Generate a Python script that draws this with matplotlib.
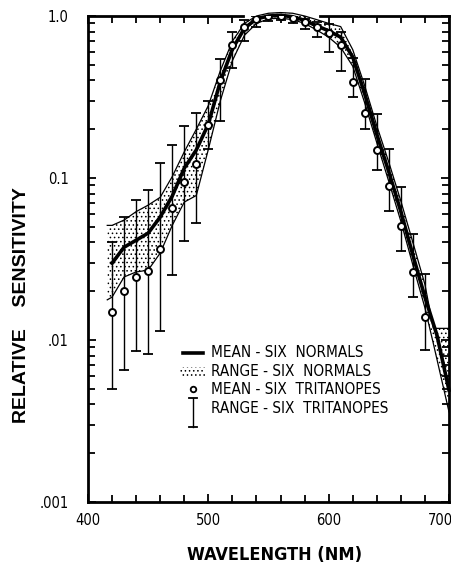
import numpy as np
import matplotlib
matplotlib.use("Agg")
import matplotlib.pyplot as plt
from matplotlib.ticker import MultipleLocator, FixedLocator, FixedFormatter, LogLocator, NullFormatter
from matplotlib.patches import Rectangle
from matplotlib.transforms import ScaledTranslation

# Mean of six normal observers (thick line)
wl = np.arange(420, 701, 10)
normal_mean = [0.0298, 0.0374, 0.0413, 0.0457, 0.0574, 0.0773, 0.115, 0.149, 0.215, 0.395,
               0.625, 0.84, 0.96, 1.0, 1.01, 0.99, 0.94, 0.87, 0.81, 0.74,
               0.558, 0.33, 0.186, 0.109, 0.062, 0.0334, 0.0184, 0.0107, 0.0049]

# Range of six normals (stippled band)
band_wl = [416, 420, 430, 440, 450, 460, 470, 480, 490, 500, 510, 520, 530, 540, 550,
           560, 570, 580, 590, 600, 610, 620, 630, 640, 650, 660, 670, 680, 687, 700]
band_hi = [0.051, 0.051, 0.055, 0.062, 0.068, 0.076, 0.102, 0.145, 0.20, 0.28, 0.46, 0.70,
           0.90, 1.0, 1.04, 1.05, 1.04, 1.0, 0.95, 0.90, 0.86, 0.62, 0.37, 0.21, 0.125,
           0.072, 0.040, 0.022, 0.0118, 0.0118]
band_lo = [0.0177, 0.0184, 0.0245, 0.0263, 0.027, 0.0344, 0.051, 0.071, 0.078, 0.15, 0.30,
           0.53, 0.76, 0.90, 0.96, 0.97, 0.95, 0.90, 0.82, 0.74, 0.64, 0.49, 0.29, 0.165,
           0.095, 0.054, 0.029, 0.0158, 0.0095, 0.0036]

# Six tritanopes: mean (circles) and range (bars)
tri_wl = np.arange(420, 681, 10)
tri_mean = [0.0149, 0.020, 0.0244, 0.0266, 0.0364, 0.0652, 0.0944, 0.122, 0.212, 0.40,
            0.66, 0.86, 0.96, 1.0, 1.0, 0.97, 0.92, 0.85, 0.78, 0.66,
            0.39, 0.252, 0.149, 0.089, 0.0504, 0.0262, 0.0138]
tri_hi = [0.0402, 0.0573, 0.073, 0.0842, 0.1236, 0.16, 0.209, 0.252, 0.30, 0.542,
          0.80, 0.95, 1.0, 1.02, 1.03, 1.0, 0.96, 0.92, 0.89, 0.80,
          0.55, 0.41, 0.25, 0.15, 0.088, 0.0449, 0.0256]
tri_lo = [0.00497, 0.0065, 0.00853, 0.00817, 0.01133, 0.0251, 0.0408, 0.0527, 0.15, 0.2246,
          0.48, 0.70, 0.85, 0.93, 0.95, 0.90, 0.83, 0.74, 0.60, 0.46,
          0.316, 0.20, 0.112, 0.0626, 0.0354, 0.0184, 0.0087]

x_ticks = [400, 500, 600, 700]
y_ticks = [0.001, 0.01, 0.1, 1.0]
y_labels = [".001", ".01", "0.1", "1.0"]

legend_labels = ["MEAN - SIX  NORMALS", "RANGE - SIX  NORMALS",
                 "MEAN - SIX  TRITANOPES", "RANGE - SIX  TRITANOPES"]

cond = dict(family="DejaVu Sans", fontstretch="condensed")

fig = plt.figure(figsize=(4.52, 5.71), dpi=100)
ax = fig.add_axes([88 / 452, 69 / 571, 361 / 452, 486 / 571])

plt.rcParams["hatch.linewidth"] = 0.6

# normal range band
band = ax.fill_between(band_wl, band_lo, band_hi, facecolor="white", edgecolor="black",
                       hatch="....", linewidth=0, zorder=1)
band.set_clip_on(False)
ax.plot(band_wl, band_hi, color="black", lw=0.9, zorder=2, clip_on=False)
ax.plot(band_wl, band_lo, color="black", lw=0.9, zorder=2)

# tritanope range bars
tm = np.array(tri_mean)
ax.errorbar(tri_wl, tm, yerr=[tm - np.array(tri_lo), np.array(tri_hi) - tm], fmt="none",
            ecolor="black", elinewidth=1.0, capsize=3.5, capthick=1.3, zorder=3)

# normal mean
ax.plot(wl, normal_mean, color="black", lw=2.6, zorder=4, clip_on=False,
        solid_joinstyle="round")

# tritanope means
ax.plot(tri_wl, tri_mean, "o", ms=5, mfc="white", mec="black", mew=1.4, zorder=5)

ax.set_xlim(400, 700)
ax.set_yscale("log")
ax.set_ylim(0.001, 1.0)

ax.xaxis.set_major_locator(FixedLocator(x_ticks))
ax.xaxis.set_minor_locator(MultipleLocator(20))
ax.yaxis.set_major_locator(FixedLocator(y_ticks))
ax.yaxis.set_major_formatter(FixedFormatter(y_labels))
ax.yaxis.set_minor_locator(LogLocator(subs=np.arange(2, 10)))
ax.yaxis.set_minor_formatter(NullFormatter())

ax.tick_params(which="both", direction="in", top=True, right=True, width=1.3)
ax.tick_params(which="major", length=6)
ax.tick_params(which="minor", length=5)
ax.tick_params(axis="x", pad=8)
ax.tick_params(axis="y", pad=14)
for lab in ax.get_xticklabels() + ax.get_yticklabels():
    lab.set_family(cond["family"])
    lab.set_fontstretch(cond["fontstretch"])
    lab.set_fontsize(10.5)
# the last x label is pulled in from the figure edge
xl = ax.get_xticklabels()[-1]
xl.set_transform(xl.get_transform() + ScaledTranslation(-9 / 100, 0, fig.dpi_scale_trans))

for s in ["left", "right", "bottom"]:
    ax.spines[s].set_linewidth(2)
# top frame is broken where the curve peaks
ax.spines["top"].set_visible(False)
ax.axhline(1.0, 0, 0.429, color="black", lw=2, clip_on=False, zorder=2)
ax.axhline(1.0, 0.643, 1, color="black", lw=2, clip_on=False, zorder=2)

fig.text(22 / 452, 1 - 305 / 571, "RELATIVE    SENSITIVITY", rotation=90, ha="center",
         va="center", fontsize=14, fontweight="bold", family=["Liberation Sans", "DejaVu Sans"])
fig.text(275 / 452, 1 - 555 / 571, "WAVELENGTH (NM)", ha="center", va="center",
         fontsize=13, fontweight="bold", **cond)

# hand-drawn key
tr = ax.transAxes
ax.plot([0.263, 0.319], [0.307, 0.307], color="black", lw=2.6, transform=tr)
ax.add_patch(Rectangle((0.255, 0.255), 0.069, 0.023, transform=tr, facecolor="white",
                       edgecolor="black", hatch="....", lw=0))
ax.plot([0.291], [0.233], "o", ms=4, mfc="white", mec="black", mew=1.3, transform=tr)
ax.plot([0.291, 0.291], [0.154, 0.214], color="black", lw=1.0, transform=tr)
ax.plot([0.281, 0.301], [0.214, 0.214], color="black", lw=1.3, transform=tr)
ax.plot([0.281, 0.301], [0.154, 0.154], color="black", lw=1.3, transform=tr)
for i, txt in enumerate(legend_labels):
    ax.text(0.341, 0.308 - i * 0.0385, txt, transform=tr, ha="left", va="center",
            fontsize=11, **cond)

fig.savefig("out.png", dpi=100)
